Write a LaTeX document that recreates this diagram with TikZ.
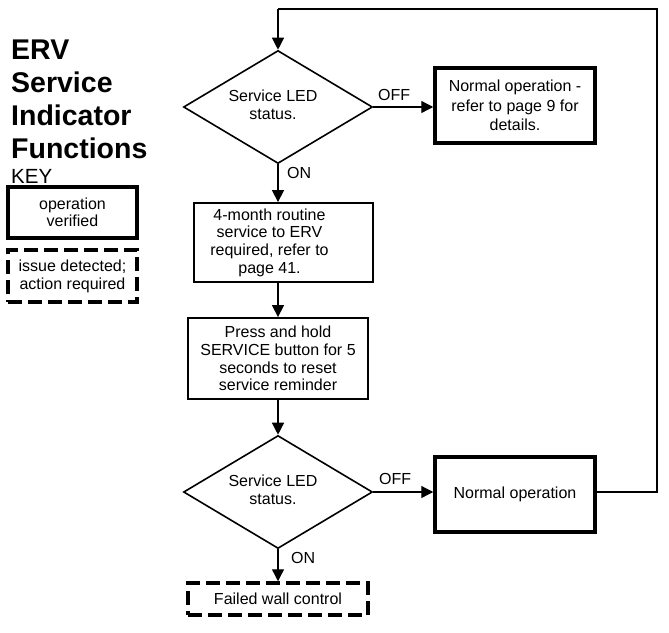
\documentclass[tikz,border=0pt]{standalone}
\usepackage{fontspec}
\setmainfont{Liberation Sans}
\usetikzlibrary{shapes.geometric,arrows.meta}
\begin{document}
\begin{tikzpicture}[x=1pt,y=-1pt,
  txt/.style={font=\fontsize{16}{17.6}\selectfont, align=center, inner sep=0pt},
  decision/.style={draw, shape=diamond, aspect=1.67, line width=1.6pt, minimum width=189pt, minimum height=113pt, inner sep=0pt},
  plainbox/.style={draw, line width=1.8pt, rectangle, inner sep=0pt},
  okbox/.style={txt, draw, line width=3.5pt, rectangle},
  issuebox/.style={txt, draw, line width=3.5pt, rectangle, dash pattern=on 14pt off 6pt},
  conn/.style={line width=1.3pt, -{Triangle[length=12pt,width=12pt]}},
  plainline/.style={line width=1.3pt},
  lbl/.style={font=\fontsize{16}{17.6}\selectfont, inner sep=0pt, anchor=base west}
]
\useasboundingbox (0,0) rectangle (669,632);

% title and key
\node[anchor=north west, align=left, inner sep=0pt, font=\bfseries\fontsize{28.5}{33}\selectfont] (title) at (11,39.5) {ERV\\Service\\Indicator\\Functions};
\node[anchor=base west, inner sep=0pt, font=\fontsize{20.5}{22}\selectfont] (key) at (11,183) {KEY};
\node[okbox, font=\fontsize{16}{17.3}\selectfont, minimum width=129pt, minimum height=51pt] (k1) at (72.5,212.5) {operation\\verified};
\node[issuebox, font=\fontsize{16}{18}\selectfont, minimum width=129pt, minimum height=52pt] (k2) at (72.5,276) {issue detected;\\action required};

% flowchart
\node[decision, label={[txt, xshift=-5pt, yshift=2pt]center:{Service LED\\status.}}] (d1) at (278,107) {};
\node[okbox, font=\fontsize{16}{19.5}\selectfont, minimum width=160pt, minimum height=75pt] (n1) at (515,105.5) {Normal operation -\\refer to page 9 for\\details.};
\node[plainbox, minimum width=179pt, minimum height=79pt,
      label={[txt, xshift=-14pt]center:{4-month routine\\service to ERV\\required, refer to\\page 41.}}] (s1) at (283.5,242.5) {};
\node[plainbox, txt, minimum width=180pt, minimum height=81pt] (s2) at (278,358.5) {Press and hold\\SERVICE button for 5\\seconds to reset\\service reminder};
\node[decision, label={[txt, xshift=-5pt, yshift=2pt]center:{Service LED\\status.}}] (d2) at (278,492) {};
\node[okbox, minimum width=160pt, minimum height=75pt] (n2) at (515,494.5) {Normal operation};
\node[issuebox, minimum width=180pt, minimum height=32pt] (f) at (278,599) {Failed wall control};

\coordinate (c1) at (657,492);
\coordinate (c2) at (657,9);
\coordinate (c3) at (278,9);

\draw[conn] (d1.east) -- (n1.west |- d1.east);
\draw[conn] (d1.south) -- (d1.south |- s1.north);
\draw[conn] (s1.south -| s2.north) -- (s2.north);
\draw[conn] (s2.south) -- (d2.north);
\draw[conn] (d2.east) -- (n2.west |- d2.east);
\draw[conn] (d2.south) -- (f.north);
\draw[plainline] (n2.east |- d2.east) -- (c1) -- (c2) -- (c3);
\draw[conn] (c3) -- (d1.north);

\node[lbl] (off1) at (378,100) {OFF};
\node[lbl] (on1) at (287,178) {ON};
\node[lbl] (off2) at (379,484) {OFF};
\node[lbl] (on2) at (291,563) {ON};
\end{tikzpicture}
\end{document}
